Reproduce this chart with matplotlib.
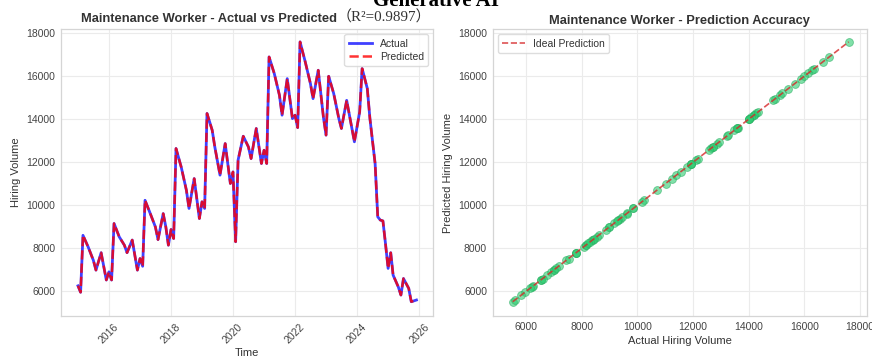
import matplotlib
matplotlib.use("Agg")
from matplotlib import pyplot as plt
from matplotlib import dates as mdates
from matplotlib.offsetbox import TextArea, HPacker, AnchoredOffsetbox
import pandas as pd

# values (turning points of the monthly series)
months = ["2015-01", "2015-02", "2015-03", "2015-05", "2015-07", "2015-08", "2015-10", "2015-12",
          "2016-01", "2016-02", "2016-03", "2016-05", "2016-07", "2016-08", "2016-10", "2016-12",
          "2017-01", "2017-02", "2017-03", "2017-05", "2017-07", "2017-08", "2017-10", "2017-11", "2017-12",
          "2018-01", "2018-02", "2018-03", "2018-05", "2018-07", "2018-08", "2018-10", "2018-12",
          "2019-01", "2019-02", "2019-03", "2019-05", "2019-06", "2019-08", "2019-10", "2019-12",
          "2020-01", "2020-02", "2020-03", "2020-05", "2020-07", "2020-08", "2020-10", "2020-12",
          "2021-01", "2021-02", "2021-03", "2021-05", "2021-07", "2021-08", "2021-10", "2021-12",
          "2022-01", "2022-02", "2022-03", "2022-05", "2022-07", "2022-08", "2022-10", "2022-12",
          "2023-01", "2023-02", "2023-04", "2023-06", "2023-07", "2023-09", "2023-12",
          "2024-02", "2024-03", "2024-05", "2024-06", "2024-08", "2024-09", "2024-10", "2024-11", "2024-12",
          "2025-01", "2025-02", "2025-03", "2025-05", "2025-06", "2025-07", "2025-09", "2025-10", "2025-12"]
actual = [6250, 5950, 8600, 8060, 7440, 6980, 7790, 6520,
          6900, 6520, 9150, 8530, 8140, 7790, 8380, 6980,
          7520, 7160, 10230, 9620, 8990, 8400, 9610, 8990, 8140,
          8870, 8450, 12640, 11780, 10700, 9850, 11240, 9380,
          10160, 9850, 14270, 13490, 12710, 11400, 12870, 11010,
          11550, 8300, 12100, 13210, 12710, 12170, 13570, 11940,
          12560, 11940, 16900, 16130, 15120, 14190, 15890, 14030,
          14190, 13610, 17600, 16670, 15660, 14960, 16280, 14100,
          13260, 16000, 15200, 14030, 13570, 14880, 12950,
          14340, 16360, 15430, 14030, 11940, 9460, 9310, 9270, 8220,
          7060, 7790, 6750, 6200, 5820, 6590, 6130, 5510, 5590]
predicted = [6250, 5950, 8600, 8060, 7440, 6980, 7790, 6520,
             6900, 6520, 9150, 8530, 8140, 7790, 8380, 6980,
             7520, 7160, 10230, 9620, 8990, 8400, 9610, 8990, 8140,
             8870, 8450, 12640, 11780, 10700, 9850, 11240, 9380,
             10160, 9850, 14270, 13490, 12710, 11400, 12870, 11010,
             11550, 8300, 12100, 13210, 12710, 12170, 13570, 11940,
             12560, 11940, 16900, 16130, 15120, 14190, 15890, 14030,
             14190, 13610, 17600, 16670, 15660, 14960, 16280, 14100,
             13260, 16000, 15200, 14030, 13570, 14880, 12950,
             14340, 16360, 15430, 14030, 11940, 9460, 9310, 9270, 8220,
             7060, 7790, 6750, 6200, 5820, 6590, 6130, 5510, 5590]

title_left = "Maintenance Worker - Actual vs Predicted"
r2_text = "（R²=0.9897）"
title_right = "Maintenance Worker - Prediction Accuracy"

dates = pd.to_datetime(months)
txt = "#333333"
plt.rcParams['font.family'] = ['Liberation Sans', 'DejaVu Sans']
plt.rcParams['axes.edgecolor'] = '#d5d5d5'
plt.rcParams['text.color'] = txt
plt.rcParams['xtick.color'] = '#444444'
plt.rcParams['ytick.color'] = '#444444'
plt.rcParams['axes.labelcolor'] = txt

fig = plt.figure(figsize=(8.72, 3.56), dpi=100)
ax1 = fig.add_axes([0.070, 0.112, 0.427, 0.806])
ax2 = fig.add_axes([0.565, 0.112, 0.429, 0.806])

for ax in (ax1, ax2):
    ax.grid(True, color='#ebebeb', lw=0.8)
    ax.set_axisbelow(True)
    ax.tick_params(labelsize=7.5, length=0, pad=4)
    for s in ax.spines.values():
        s.set_linewidth(0.9)

# left: time series
ax1.plot(dates, actual, color='blue', lw=2, alpha=0.75, label='Actual')
ax1.plot(dates, predicted, color='red', ls='--', lw=1.8, alpha=0.8, label='Predicted')
ax1.xaxis.set_major_locator(mdates.YearLocator(2))
ax1.xaxis.set_major_formatter(mdates.DateFormatter('%Y'))
for lab in ax1.get_xticklabels():
    lab.set_rotation(45)
ax1.set_ylim(4840, 18190)
ax1.set_ylabel('Hiring Volume', fontsize=8)
ax1.set_xlabel('Time', fontsize=8, labelpad=2)
ax1.legend(loc='upper right', fontsize=7.5, frameon=True, edgecolor='#d5d5d5',
           handlelength=2.2, borderpad=0.4, labelspacing=0.3)

t1 = TextArea(title_left, textprops=dict(fontsize=9.3, fontweight='bold', color=txt))
t2 = TextArea(r2_text, textprops=dict(fontsize=10.8, color=txt,
                                      family=['Liberation Serif', 'Noto Sans CJK SC']))
box = HPacker(children=[t1, t2], align='baseline', pad=0, sep=0)
anch = AnchoredOffsetbox(loc='lower center', child=box, pad=0, frameon=False,
                         bbox_to_anchor=(0.523, 1.0), bbox_transform=ax1.transAxes, borderpad=0.3)
ax1.add_artist(anch)

# right: predicted vs actual
ax2.scatter(actual, predicted, s=32, color='#2ecc71', alpha=0.6, edgecolors='#27ae60', linewidths=0.6, zorder=2)
lo, hi = min(actual), max(actual)
ax2.plot([lo, hi], [lo, hi], color='#d62728', ls='--', lw=1.2, alpha=0.8, label='Ideal Prediction', zorder=3)
ax2.set_xlim(4790, 18250)
ax2.set_ylim(4840, 18190)
ax2.set_xlabel('Actual Hiring Volume', fontsize=8, labelpad=3)
ax2.set_ylabel('Predicted Hiring Volume', fontsize=8)
ax2.set_title(title_right, fontsize=9.3, fontweight='bold', pad=4)
ax2.legend(loc='upper left', fontsize=7.5, frameon=True, edgecolor='#d5d5d5',
           handlelength=2.2, borderpad=0.4)

# clipped heading at the very top
fig.text(0.5, 0.982, 'Generative AI', ha='center', va='baseline', fontsize=15,
         fontweight='bold', family='Liberation Serif', color='black')

fig.savefig('out.png', dpi=100)
